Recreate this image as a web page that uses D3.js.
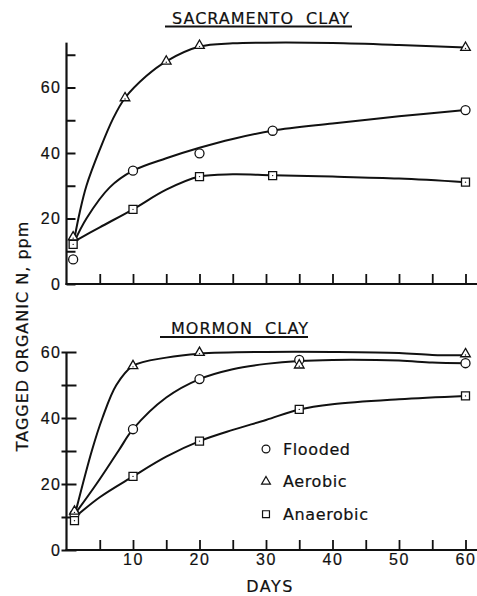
<!DOCTYPE html>
<html>
<head>
<meta charset="utf-8">
<style>
    body { margin: 0; background: #fff; }
    svg { display: block; font-family: 'DejaVu Sans', 'Liberation Sans', Arial, sans-serif; }
    .lbl { font-size: 16px; fill: #111; stroke: #111; stroke-width: 0.2px; }
</style>
</head>
<body>
<svg width="477" height="596"></svg>
<script src="https://d3js.org/d3.v7.min.js"></script>
<script>
    // ---- data: [day, ppm] ----
    // Sacramento clay, measured points
    let sacFlooded = [[1, 7.5], [10, 34.6], [20, 39.9], [31, 46.8], [60, 53.1]];
    let sacAerobic = [[1, 14.3], [8.8, 56.8], [15, 68], [20, 72.8], [60, 72.2]];
    let sacAnaerobic = [[1, 12.1], [10, 22.8], [20, 32.8], [31, 33.1], [60, 31.1]];
    // Sacramento clay, hand drawn curves
    let sacFloodedCurve = [[1.2, 13], [3, 20], [6.5, 29.5], [10, 34.6], [15, 38.4], [20, 41.6], [25, 44.3], [31, 46.8], [40, 49], [50, 51.2], [60, 53.1]];
    let sacAerobicCurve = [[1.2, 14], [2, 22], [3, 30], [5, 41], [7, 50.5], [8.8, 56.8], [12, 63.5], [15, 68], [20, 72.5], [25, 73.5], [30, 73.7], [40, 73.6], [50, 73], [60, 72.2]];
    let sacAnaerobicCurve = [[1.2, 13], [5, 17.3], [10, 22.8], [15, 28.8], [20, 32.8], [25, 33.5], [31, 33.2], [40, 32.8], [50, 32.2], [60, 31.1]];

    // Mormon clay, measured points
    let morFlooded = [[1.2, 10.8], [10, 36.6], [20, 51.8], [35, 57.6], [60, 56.6]];
    let morAerobic = [[1.2, 11.7], [10, 55.8], [20, 59.8], [35, 56], [60, 59.4]];
    let morAnaerobic = [[1.2, 8.9], [10, 22.3], [20, 33], [35, 42.6], [60, 46.7]];
    // Mormon clay, hand drawn curves
    let morFloodedCurve = [[1.3, 11], [4.5, 20], [7.8, 30], [10, 36.6], [15, 46.2], [20, 51.8], [25, 54.8], [30, 56.4], [35, 57.3], [40, 57.6], [50, 57.4], [55, 56.8], [60, 56.6]];
    let morAerobicCurve = [[1.3, 11], [3.8, 30], [5.4, 40], [7.5, 50], [10, 55.8], [15, 58.3], [20, 59.5], [30, 60], [40, 60], [50, 59.7], [55, 59.1], [60, 59]];
    let morAnaerobicCurve = [[1.3, 10], [5, 16], [10, 22.3], [15, 28.3], [20, 33], [25, 36.4], [30, 39.4], [35, 42.6], [40, 44.2], [50, 45.7], [60, 46.7]];

    let xTicks = [5, 10, 15, 20, 25, 30, 35, 40, 45, 50, 55, 60];
    let sacYTicks = [0, 10, 20, 30, 40, 50, 60, 70];
    let morYTicks = [0, 10, 20, 30, 40, 50, 60];
    let legendLabels = ["Flooded", "Aerobic", "Anaerobic"];
    let legendShapes = ["circle", "triangle", "square"];

    let svg = d3.select("svg");

    let x = d3.scaleLinear().domain([0, 60]).range([66.5, 465.5]);
    let yTop = d3.scaleLinear().domain([0, 70]).range([284, 54.75]);
    let yBot = d3.scaleLinear().domain([0, 60]).range([550, 352]);

    let symbolTypes = { circle: d3.symbolCircle, triangle: d3.symbolTriangle, square: d3.symbolSquare };
    let symbolSizes = { circle: 64, triangle: 40, square: 64 };

    function drawPanel(y, yTicks, yMax, xLabels, curves, points, crossTicks) {
        let g = svg.append("g");

        // y axis
        let ya = g.append("g")
            .attr("transform", `translate(${x(0)},0)`)
            .call(d3.axisLeft(y).tickValues(yTicks).tickSizeInner(-9).tickSizeOuter(0).tickPadding(5)
                .tickFormat(d => d % 20 === 0 ? d : ""));
        ya.select(".domain").remove();
        ya.selectAll(".tick line").attr("stroke", "#111").attr("stroke-width", 2);
        if (crossTicks) ya.selectAll(".tick line").attr("x1", -5).attr("x2", 10);
        ya.selectAll(".tick text").attr("class", "lbl").attr("letter-spacing", 1.5)
            .attr("font-family", null).attr("font-size", null).attr("fill", null);
        g.append("line")
            .attr("x1", x(0)).attr("x2", x(0))
            .attr("y1", y(0) + 1).attr("y2", y(yMax))
            .attr("stroke", "#111").attr("stroke-width", 2.2);

        // x axis
        let xa = g.append("g")
            .attr("transform", `translate(0,${y(0)})`)
            .call(d3.axisBottom(x).tickValues(xTicks).tickSizeInner(-10).tickSizeOuter(0).tickPadding(4)
                .tickFormat(d => xLabels && d % 10 === 0 ? d : ""));
        xa.select(".domain").remove();
        xa.selectAll(".tick line").attr("stroke", "#111").attr("stroke-width", 1.8);
        xa.selectAll(".tick text").attr("class", "lbl").attr("letter-spacing", 1.5)
            .attr("font-family", null).attr("font-size", null).attr("fill", null);
        g.append("line")
            .attr("x1", x(0) - 1).attr("x2", 477)
            .attr("y1", y(0)).attr("y2", y(0))
            .attr("stroke", "#111").attr("stroke-width", 2.2);

        // curves
        let line = d3.line()
            .x(d => x(d[0]))
            .y(d => y(d[1]))
            .curve(d3.curveCatmullRom.alpha(0.5));
        curves.forEach(c => {
            g.append("path")
                .attr("d", line(c))
                .attr("fill", "none")
                .attr("stroke", "#111")
                .attr("stroke-width", 2);
        });

        // markers
        points.forEach(p => {
            g.append("g").selectAll("path")
                .data(p.data)
                .join("path")
                .attr("transform", d => `translate(${x(d[0])},${y(d[1])})`)
                .attr("d", d3.symbol().type(symbolTypes[p.shape]).size(symbolSizes[p.shape])())
                .attr("fill", "#fff")
                .attr("stroke", "#111")
                .attr("stroke-width", 1.3);
            if (p.shape !== "circle") {
                g.append("g").selectAll("circle")
                    .data(p.data)
                    .join("circle")
                    .attr("cx", d => x(d[0]))
                    .attr("cy", d => y(d[1]) + (p.shape === "triangle" ? 1 : 0))
                    .attr("r", 0.7)
                    .attr("fill", "#111");
            }
        });
    }

    drawPanel(yTop, sacYTicks, 73.7, false,
        [sacFloodedCurve, sacAerobicCurve, sacAnaerobicCurve],
        [{ shape: "circle", data: sacFlooded }, { shape: "triangle", data: sacAerobic }, { shape: "square", data: sacAnaerobic }],
        false);

    drawPanel(yBot, morYTicks, 60, true,
        [morFloodedCurve, morAerobicCurve, morAnaerobicCurve],
        [{ shape: "circle", data: morFlooded }, { shape: "triangle", data: morAerobic }, { shape: "square", data: morAnaerobic }],
        true);

    // panel titles
    function title(txt, cx, base, u1, u2, uy) {
        svg.append("text")
            .attr("class", "lbl")
            .attr("x", cx).attr("y", base)
            .attr("text-anchor", "middle")
            .attr("letter-spacing", 1)
            .attr("word-spacing", 6)
            .text(txt);
        svg.append("line")
            .attr("x1", u1).attr("x2", u2)
            .attr("y1", uy).attr("y2", uy)
            .attr("stroke", "#111").attr("stroke-width", 2);
    }
    title("SACRAMENTO CLAY", 261, 24, 165, 352, 26.5);
    title("MORMON CLAY", 240, 333.5, 160, 308, 337);

    // axis titles
    svg.append("text")
        .attr("class", "lbl")
        .attr("transform", "translate(27.5,336) rotate(-90)")
        .attr("text-anchor", "middle")
        .attr("letter-spacing", 1)
        .text("TAGGED ORGANIC N, ppm");

    svg.append("text")
        .attr("class", "lbl")
        .attr("x", 270).attr("y", 592)
        .attr("text-anchor", "middle")
        .attr("letter-spacing", 1.5)
        .text("DAYS");

    // legend
    let leg = svg.append("g");
    legendLabels.forEach((name, i) => {
        let cy = 449 + i * 32.6;
        leg.append("path")
            .attr("transform", `translate(266,${cy})`)
            .attr("d", d3.symbol().type(symbolTypes[legendShapes[i]])
                .size(legendShapes[i] === "triangle" ? 34 : 48)())
            .attr("fill", "#fff")
            .attr("stroke", "#111")
            .attr("stroke-width", 1.2);
        leg.append("text")
            .attr("class", "lbl")
            .attr("x", 283).attr("y", cy + 5.5)
            .attr("letter-spacing", 0.6)
            .text(name);
    });
</script>
</body>
</html>
